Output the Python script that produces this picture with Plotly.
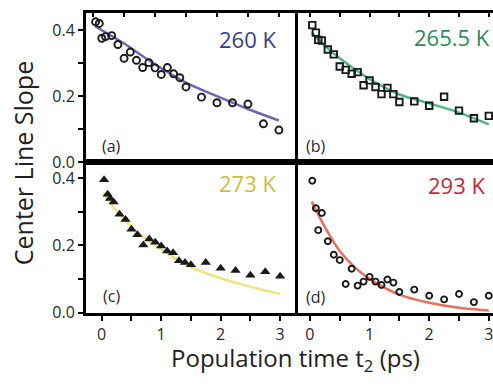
import plotly.graph_objects as go

# ---------------- data ----------------
T = [0.04, 0.1, 0.14, 0.2, 0.3, 0.4, 0.5, 0.6, 0.7, 0.8, 0.9, 1.0, 1.1, 1.2,
     1.3, 1.4, 1.5, 1.75, 2.0, 2.25, 2.5, 2.75, 3.0]

slope_260 = [0.426, 0.421, 0.376, 0.381, 0.384, 0.357, 0.315, 0.334, 0.309, 0.287,
             0.302, 0.286, 0.266, 0.287, 0.268, 0.256, 0.228, 0.197, 0.180, 0.180,
             0.176, 0.116, 0.097]
slope_2655 = [0.416, 0.393, 0.371, 0.369, 0.342, 0.327, 0.290, 0.280, 0.268, 0.273,
              0.233, 0.248, 0.228, 0.206, 0.225, 0.206, 0.182, 0.184, 0.171, 0.198,
              0.156, 0.133, 0.140]
slope_273 = [0.395, 0.352, 0.339, 0.329, 0.292, 0.277, 0.248, 0.231, 0.201, 0.219,
             0.209, 0.198, 0.183, 0.178, 0.154, 0.149, 0.142, 0.149, 0.132, 0.125,
             0.111, 0.121, 0.108]
slope_293 = [0.392, 0.310, 0.245, 0.296, 0.212, 0.172, 0.156, 0.085, 0.130, 0.080,
             0.092, 0.106, 0.092, 0.082, 0.098, 0.089, 0.061, 0.068, 0.050, 0.039,
             0.055, 0.031, 0.050]

FIT_T = [0.03, 0.25, 0.5, 0.75, 1.0, 1.5, 2.0, 2.5, 3.0]
fit_260 = [0.413, 0.388, 0.360, 0.328, 0.297, 0.241, 0.200, 0.161, 0.126]
fit_2655 = [0.393, 0.353, 0.315, 0.282, 0.252, 0.205, 0.178, 0.150, 0.114]
fit_273 = [0.355, 0.302, 0.255, 0.218, 0.188, 0.135, 0.102, 0.077, 0.055]
fit_293 = [0.330, 0.255, 0.183, 0.135, 0.100, 0.053, 0.029, 0.014, 0.006]

temps = ["260 K", "265.5 K", "273 K", "293 K"]
panel_tags = ["(a)", "(b)", "(c)", "(d)"]
y_tickvals = [0.0, 0.2, 0.4]
y_ticktext = ["0.0", "0.2", "0.4"]
x_tickvals = [0, 1, 2, 3]
x_ticktext = ["0", "1", "2", "3"]

# ---------------- layout geometry ----------------
W, H = 493, 385
def px(x): return x / W
def py(y): return 1 - y / H

XL = [px(86), px(295)]
XR = [px(295), 1.0]
YT = [py(166.7), py(13.3)]
YB = [py(321.7), py(166.7)]

FONT = "Open Sans"
TXT = "#2a2a2a"
MK = "#1a1a1a"

fig = go.Figure()

def add_panel(xa, ya, ydat, fit, fitcol, symbol, msize, filled):
    fig.add_trace(go.Scatter(x=FIT_T, y=fit, mode="lines", line=dict(color=fitcol, width=2.5, shape="spline"),
                             xaxis=xa, yaxis=ya, showlegend=False, hoverinfo="skip"))
    if filled:
        marker = dict(symbol=symbol, size=msize, color=MK, line=dict(width=0))
    else:
        marker = dict(symbol=symbol, size=msize, color="rgba(0,0,0,0)", line=dict(color=MK, width=1.9))
    fig.add_trace(go.Scatter(x=T, y=ydat, mode="markers", marker=marker,
                             xaxis=xa, yaxis=ya, showlegend=False))

add_panel("x", "y", slope_260, fit_260, "#6a68b6", "circle", 7, False)
add_panel("x2", "y2", slope_2655, fit_2655, "#4fb686", "square", 6.5, False)
add_panel("x3", "y3", slope_273, fit_273, "#f1e47a", "triangle-up", 9, True)
add_panel("x4", "y4", slope_293, fit_293, "#e8705e", "circle", 6, False)

axline = dict(showline=True, linecolor="black", linewidth=3, showgrid=False, zeroline=False)
tickfont = dict(family=FONT, size=16, color=TXT)
ystyle = dict(tickvals=y_tickvals, ticktext=y_ticktext, ticks="outside", ticklen=5, tickwidth=2,
              tickcolor="black", tickfont=tickfont, mirror=True,
              minor=dict(dtick=0.1, tick0=0, ticks="outside", ticklen=5, tickwidth=2, tickcolor="black",
                         showgrid=False),
              fixedrange=True, **axline)
xbot = dict(tickvals=x_tickvals, ticktext=x_ticktext, ticks="outside", ticklen=5, tickwidth=2,
            tickcolor="black", tickfont=tickfont, mirror=True, ticklabeloverflow="allow",
            minor=dict(dtick=0.5, tick0=0, ticks="outside", ticklen=5, tickwidth=2, tickcolor="black",
                       showgrid=False),
            **axline)
xtop = dict(side="top", ticks="inside", dtick=0.5, tick0=0, showticklabels=False, ticklen=4,
            tickwidth=2, tickcolor="black", mirror=True, **axline)
yhidden = dict(showline=False, showticklabels=False, ticks="", showgrid=False, zeroline=False,
               fixedrange=True)

fig.update_layout(
    width=W, height=H, margin=dict(l=0, r=0, t=0, b=0),
    paper_bgcolor="white", plot_bgcolor="white",
    xaxis=dict(domain=XL, anchor="y", range=[-0.115, 3.26], **xtop),
    yaxis=dict(domain=YT, anchor="x", range=[0, 0.453], **ystyle),
    xaxis2=dict(domain=XR, anchor="y2", range=[-0.25, 3.07], **xtop),
    yaxis2=dict(domain=YT, anchor="x2", range=[0, 0.453], **yhidden),
    xaxis3=dict(domain=XL, anchor="y3", range=[-0.264, 3.25], **xbot),
    yaxis3=dict(domain=YB, anchor="x3", range=[0, 0.448], **ystyle),
    xaxis4=dict(domain=XR, anchor="y4", range=[-0.25, 3.07], **xbot),
    yaxis4=dict(domain=YB, anchor="x4", range=[0, 0.448], **yhidden),
)

ann = []
temp_pos = [(278, 40, "#3b3d8a"), (492, 38, "#2c8a5c"), (278, 188, "#c9c13a"), (487, 190, "#c4283e")]
for (x, y, c), t in zip(temp_pos, temps):
    ann.append(dict(x=px(x), y=py(y), xref="paper", yref="paper", text=t, showarrow=False,
                    xanchor="right", yanchor="middle", font=dict(family=FONT, size=22, color=c)))
tag_pos = [(111, 150), (316, 150), (111, 305), (316, 306)]
for (x, y), t in zip(tag_pos, panel_tags):
    ann.append(dict(x=px(x), y=py(y), xref="paper", yref="paper", text=t, showarrow=False,
                    xanchor="center", yanchor="middle", font=dict(family=FONT, size=16, color=TXT)))
ann.append(dict(x=px(23), y=py(168), xref="paper", yref="paper", text="Center Line Slope",
                textangle=-90, showarrow=False, xanchor="center", yanchor="middle",
                font=dict(family=FONT, size=25, color="#222222")))
ann.append(dict(x=px(295), y=py(370), xref="paper", yref="paper",
                text="Population time t<sub>2</sub> (ps)", showarrow=False,
                xanchor="center", yanchor="middle", font=dict(family=FONT, size=24, color="#222222")))
fig.update_layout(annotations=ann)

fig.write_html("out.html", config=dict(displayModeBar=False),
               post_script="document.body.style.margin='0px';")
